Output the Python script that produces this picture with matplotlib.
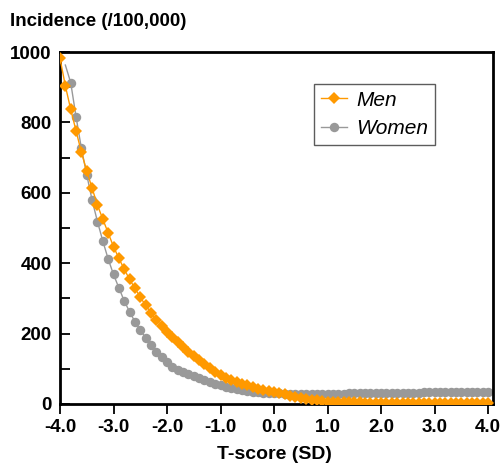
import numpy as np
import matplotlib
matplotlib.use("Agg")
import matplotlib.pyplot as plt
from matplotlib.ticker import MultipleLocator

# ---- data ----
men_x = [round(-4.0 + 0.1 * i, 1) for i in range(81)]
men_y = [982, 904, 837, 776, 715, 662, 613, 565, 525, 486,
         447, 414, 383, 354, 329, 303, 281, 259, 239, 222,
         205, 191, 177, 163, 149, 136, 124, 113, 102, 92,
         83, 75, 68, 62, 57, 53, 48, 44, 40, 36,
         33, 30, 27, 23, 20, 17, 14, 12, 10, 8.5,
         7, 6.5, 6, 5.5, 5, 4.6, 4.3, 4, 3.8, 3.6,
         3.4, 3.2, 3, 3, 2.8, 2.7, 2.6, 2.5, 2.5, 2.4,
         2.3, 2.3, 2.2, 2.2, 2.1, 2.1, 2.0, 2.0, 2.0, 2.0, 2.0]

women_x = [round(-3.9 + 0.1 * i, 1) for i in range(80)]
women_y = [963, 913, 816, 726, 651, 579, 518, 463, 412, 368,
           330, 293, 262, 234, 210, 188, 168, 149, 134, 119,
           106, 98, 91, 85, 80, 75, 69, 63, 57, 53,
           49, 46, 43, 40, 37, 35, 33, 32, 31, 30,
           30, 29, 29, 28, 28, 28, 27, 27, 28, 28,
           29, 29, 29, 30, 30, 30, 30, 31, 31, 31,
           31, 31, 32, 32, 32, 32, 32, 33, 33, 33,
           33, 33, 34, 34, 34, 34, 35, 35, 35, 35]

x_ticks = [-4.0, -3.0, -2.0, -1.0, 0.0, 1.0, 2.0, 3.0, 4.0]
x_tick_labels = ["-4.0", "-3.0", "-2.0", "-1.0", "0.0", "1.0", "2.0", "3.0", "4.0"]
y_ticks = [0, 200, 400, 600, 800, 1000]

ORANGE = "#FF9900"
GRAY = "#999999"

plt.rcParams['font.family'] = ['Liberation Sans', 'DejaVu Sans']

fig = plt.figure(figsize=(5.01, 4.65), dpi=100)
ax = fig.add_axes([60 / 501, 1 - 404 / 465, 433.5 / 501, 352 / 465])

ax.plot(men_x, men_y, color=ORANGE, lw=1.0, marker='D', markersize=5.8,
        markeredgewidth=0, label='Men', zorder=3)
ax.plot(women_x, women_y, color=GRAY, lw=1.0, marker='o', markersize=6.8,
        markeredgewidth=0, label='Women', markevery=slice(1, None), zorder=2)

ax.set_xlim(-4.0, 4.1)
ax.set_ylim(0, 1000)
ax.set_xticks(x_ticks)
ax.set_xticklabels(x_tick_labels)
ax.set_yticks(y_ticks)
ax.yaxis.set_minor_locator(MultipleLocator(100))

for s in ax.spines.values():
    s.set_linewidth(2.0)

ax.tick_params(axis='x', direction='out', length=7, width=1.3, pad=4,
               labelsize=13.5, labelcolor='black')
ax.tick_params(axis='y', which='both', direction='in', length=7, width=1.3,
               pad=6, labelsize=13.5)
for lab in ax.get_xticklabels() + ax.get_yticklabels():
    lab.set_fontweight('bold')

leg = ax.legend(loc='upper left', bbox_to_anchor=(0.586, 0.909),
                fancybox=False, frameon=True, edgecolor='#333333',
                prop={'style': 'italic', 'size': 15}, handlelength=1.25,
                borderpad=0.32, labelspacing=0.45, handletextpad=0.45,
                borderaxespad=0)
leg.get_frame().set_linewidth(1.0)

fig.text(10 / 501, 1 - 26 / 465, "Incidence (/100,000)", fontsize=13.5,
         fontweight='bold', va='baseline', ha='left')
fig.text(274 / 501, 1 - 459 / 465, "T-score (SD)", fontsize=14,
         fontweight='bold', va='baseline', ha='center')

fig.savefig("out.png", dpi=100)
